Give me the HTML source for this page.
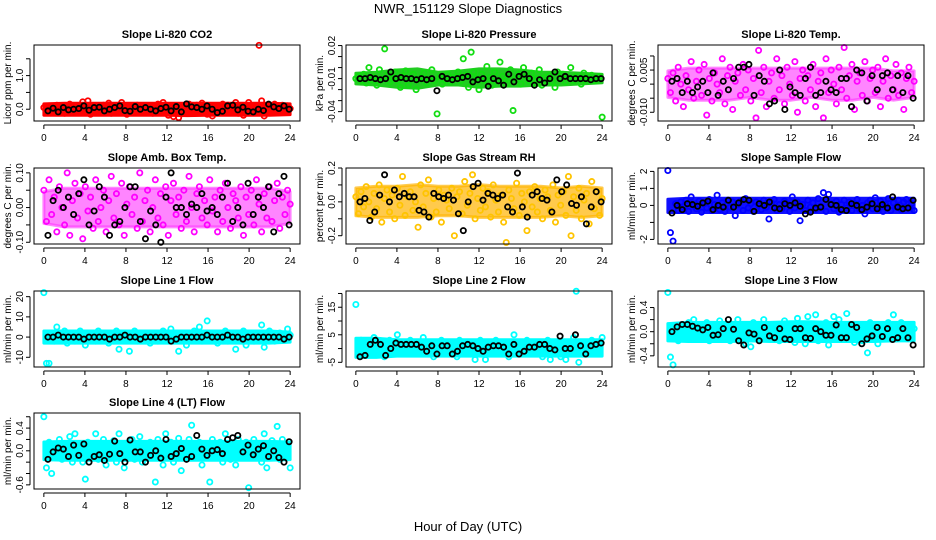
<!DOCTYPE html>
<html><head><meta charset="utf-8"><style>
html,body{margin:0;padding:0;background:#fff;}
svg{display:block;font-family:"Liberation Sans",sans-serif;}
</style></head><body>
<svg id="chart" width="936" height="540" viewBox="0 0 936 540" xmlns="http://www.w3.org/2000/svg">
<text x="468" y="13" text-anchor="middle" font-size="13">NWR_151129  Slope Diagnostics</text>
<text x="468" y="531" text-anchor="middle" font-size="13">Hour of Day (UTC)</text>
</svg>
<script>
const xTicks=[0,4,8,12,16,20,24];
const titles=["Slope Li-820 CO2","Slope Li-820 Pressure","Slope Li-820 Temp.","Slope Amb. Box Temp.","Slope Gas Stream RH","Slope Sample Flow","Slope Line 1 Flow","Slope Line 2 Flow","Slope Line 3 Flow","Slope Line 4 (LT) Flow"];
const yTitles=["Licor ppm per min.","kPa per min.","degrees C per min.","degrees C per min.","percent per min.","ml/min per min.","ml/min per min.","ml/min per min.","ml/min per min.","ml/min per min."];
const yDomains=[[-0.35,1.91],[-0.0485,0.0205],[-0.0131,0.0139],[-0.105,0.114],[-0.249,0.2],[-2.27,2.2],[-14.8,22.8],[-6.7,20.9],[-0.585,0.674],[-0.673,0.666]];
const yTickVals=[[0,0.5,1,1.5],[0.02,0.01,0,-0.01,-0.02,-0.03,-0.04],[0.01,0.005,0,-0.005,-0.01],[0.1,0.05,0,-0.05,-0.1],[0.2,0.1,0,-0.1,-0.2],[2,1,0,-1,-2],[20,10,0,-10],[20,15,10,5,0,-5],[0.4,0.2,0,-0.2,-0.4],[0.6,0.4,0.2,0,-0.2,-0.4,-0.6]];
const yTickLabels=[["0.0","","1.0",""],["0.02","","","-0.01","","","-0.04"],["","0.005","","","-0.010"],["0.10","","0.00","","-0.10"],["0.2","","0.0","","-0.2"],["2","1","0","","-2"],["20","10","0","-10"],["","15","","5","","-5"],["0.4","","0.0","","-0.4"],["","0.4","","0.0","","","-0.6"]];
const cloudColors=["#ff0000","#11dd11","#ff00ff","#ff00ff","#ffc400","#0000ff","#00ffff","#00ffff","#00ffff","#00ffff"];
const bandColors=["#ff0000","#22cc22","#ff33ff","#ff33ff","#ffb400","#1010ff","#00ffff","#00ffff","#00ffff","#00ffff"];
const bandOpacity=[1,1,0.6,0.6,0.7,1,1,1,1,1];

// dense-cloud envelope (lower / upper) every 2 hours, 0..24
const bandLo0=[-0.12,-0.12,-0.12,-0.12,-0.12,-0.12,-0.12,-0.13,-0.12,-0.12,-0.12,-0.12,-0.1];
const bandHi0=[0.1,0.12,0.12,0.12,0.12,0.12,0.12,0.12,0.12,0.12,0.12,0.12,0.1];
const bandLo1=[-0.013,-0.014,-0.016,-0.017,-0.014,-0.014,-0.016,-0.015,-0.015,-0.014,-0.014,-0.013,-0.012];
const bandHi1=[-0.007,-0.006,-0.004,-0.003,-0.006,-0.005,-0.003,-0.003,-0.004,-0.006,-0.006,-0.007,-0.008];
const bandLo2=[-0.004,-0.005,-0.005,-0.005,-0.004,-0.005,-0.005,-0.004,-0.005,-0.005,-0.004,-0.005,-0.004];
const bandHi2=[0.004,0.005,0.005,0.005,0.005,0.005,0.005,0.005,0.005,0.005,0.005,0.004,0.004];
const bandLo3=[-0.04,-0.05,-0.05,-0.05,-0.05,-0.05,-0.05,-0.05,-0.05,-0.05,-0.05,-0.05,-0.04];
const bandHi3=[0.04,0.05,0.05,0.05,0.05,0.05,0.05,0.05,0.05,0.05,0.05,0.05,0.04];
const bandLo4=[-0.07,-0.08,-0.08,-0.08,-0.07,-0.07,-0.08,-0.08,-0.08,-0.08,-0.07,-0.08,-0.07];
const bandHi4=[0.07,0.08,0.08,0.09,0.08,0.08,0.09,0.08,0.08,0.08,0.07,0.08,0.07];
const bandLo5=[-0.3,-0.3,-0.3,-0.3,-0.3,-0.3,-0.3,-0.3,-0.3,-0.3,-0.3,-0.3,-0.3];
const bandHi5=[0.25,0.3,0.3,0.3,0.3,0.3,0.3,0.3,0.3,0.3,0.3,0.3,0.3];
const bandLo6=[-2,-2,-2,-2,-2,-2,-2,-2,-2,-2,-2,-2,-1.5];
const bandHi6=[2,2,2,2,2,2,2,2,2,2,2,2,1.5];
const bandLo7=[-2.5,-2.5,-2,-2,-2,-2,-2,-2,-2,-2,-2,-2,-2];
const bandHi7=[3,3,2.5,2.5,2.5,2.5,2.5,2.5,2.5,2.5,2.5,2.5,2.5];
const bandLo8=[-0.12,-0.13,-0.13,-0.13,-0.12,-0.13,-0.13,-0.13,-0.13,-0.13,-0.13,-0.12,-0.12];
const bandHi8=[0.1,0.12,0.12,0.12,0.12,0.12,0.13,0.13,0.12,0.12,0.12,0.12,0.12];
const bandLo9=[-0.12,-0.13,-0.13,-0.13,-0.13,-0.13,-0.13,-0.13,-0.13,-0.13,-0.13,-0.13,-0.12];
const bandHi9=[0.12,0.13,0.13,0.13,0.13,0.13,0.13,0.13,0.13,0.13,0.13,0.13,0.12];

const cloud0=[0.05,-0.08,0.1,-0.1,0.02,0.12,-0.05,0.08,-0.12,0.0,0.15,-0.06,0.1,-0.1,0.05,0.22,-0.08,0.25,-0.15,0.06,0.1,-0.1,0.0,0.12,-0.06,0.18,-0.12,0.05,0.08,-0.1,0.2,0.0,-0.15,0.1,0.05,-0.08,0.12,-0.1,0.02,0.08,-0.05,0.1,-0.12,0.06,0.15,-0.05,0.2,-0.1,-0.18,0.08,-0.22,0.05,-0.25,0.1,0.0,-0.1,0.15,-0.05,0.08,0.12,-0.1,0.18,0.0,-0.15,0.05,-0.2,0.1,0.06,-0.08,0.15,-0.1,0.12,0.05,-0.05,0.2,-0.12,0.1,-0.18,0.08,0.2,-0.05,0.1,-0.1,1.9,0.25,-0.2,0.0,0.1,-0.08,0.15,0.05,-0.1,0.12,-0.06,0.1,0.02];
const black0=[-0.05,0.03,-0.08,0.05,-0.02,0.0,0.02,0.1,-0.03,0.05,0.06,-0.05,0.0,0.05,0.1,-0.04,-0.06,0.08,0.0,0.05,0.0,-0.05,0.02,0.06,-0.05,0.08,-0.08,0.16,0.07,0.05,0.0,0.1,0.0,-0.1,-0.06,0.1,0.12,-0.02,0.06,-0.06,-0.08,0.0,-0.04,0.15,0.07,0.02,0.1,0.0];
const cloud1=[-0.01,-0.008,-0.012,-0.006,-0.014,0.0,-0.011,-0.009,-0.016,-0.002,-0.01,0.017,-0.007,-0.013,-0.01,-0.004,-0.012,-0.018,-0.008,-0.003,-0.016,-0.01,-0.006,-0.02,-0.011,-0.009,-0.005,-0.014,-0.01,-0.002,-0.012,-0.042,-0.008,-0.015,-0.011,-0.006,-0.013,-0.009,-0.01,-0.004,-0.012,0.008,-0.007,-0.018,0.014,-0.004,-0.01,-0.02,-0.006,-0.012,0.001,-0.009,-0.016,-0.004,-0.012,0.005,-0.008,-0.011,-0.014,-0.002,-0.039,-0.01,-0.006,-0.015,0.0,-0.008,-0.012,-0.005,-0.014,-0.01,-0.002,-0.016,-0.009,-0.011,-0.007,-0.013,-0.018,-0.004,-0.01,-0.006,-0.013,-0.009,0.0,-0.012,-0.008,-0.01,-0.015,-0.005,-0.011,-0.009,-0.007,-0.012,-0.01,-0.008,-0.045];
const black1=[-0.01,-0.01,-0.009,-0.01,-0.011,-0.01,-0.004,-0.01,-0.009,-0.01,-0.01,-0.011,-0.01,-0.011,-0.01,-0.021,-0.008,-0.01,-0.011,-0.01,-0.009,-0.008,-0.013,-0.011,-0.01,-0.017,-0.01,-0.012,-0.016,-0.006,-0.013,-0.008,-0.006,-0.01,-0.016,-0.011,-0.014,-0.01,-0.004,-0.01,-0.008,-0.01,-0.01,-0.01,-0.01,-0.011,-0.01,-0.01];
const cloud2=[0.002,-0.003,0.004,-0.006,0.006,0.0,-0.008,0.003,-0.002,0.008,-0.005,0.001,0.005,-0.004,0.007,-0.011,0.002,-0.006,0.004,0.0,-0.003,0.009,-0.007,0.003,0.006,-0.009,0.001,0.004,-0.004,0.007,-0.002,0.005,-0.006,0.002,-0.012,0.012,-0.003,0.006,-0.008,0.001,0.004,-0.005,0.009,-0.002,0.003,-0.007,0.006,0.0,-0.004,0.008,-0.01,0.002,0.005,-0.006,0.003,-0.002,0.007,-0.008,0.001,0.004,-0.012,0.009,-0.003,0.005,0.0,-0.007,0.006,-0.002,0.013,-0.005,0.003,0.007,-0.009,0.001,0.004,-0.004,0.008,-0.006,0.002,0.005,-0.003,0.006,-0.008,0.001,0.009,-0.005,0.003,-0.002,0.007,-0.004,0.004,-0.009,0.002,0.006,-0.003,0.001];
const black2=[0.001,0.002,-0.003,0.001,-0.003,-0.001,0.001,-0.003,0.004,-0.004,0.001,-0.002,0.002,0.006,0.006,0.007,-0.004,0.003,0.001,-0.007,-0.006,0.005,-0.009,-0.001,-0.003,-0.004,0.002,0.006,-0.004,-0.003,0.001,-0.002,-0.003,0.002,0.002,-0.008,0.005,0.004,-0.006,0.003,-0.002,0.003,0.004,-0.002,0.003,-0.003,0.003,-0.005];
const cloud3=[0.05,-0.04,0.08,-0.02,0.03,-0.07,0.06,0.0,-0.05,0.1,-0.08,0.02,0.07,-0.03,0.04,-0.09,0.06,-0.01,0.03,-0.06,0.08,-0.04,0.0,0.05,-0.07,0.02,0.09,-0.03,0.04,-0.05,0.07,-0.08,0.01,0.06,-0.02,0.03,-0.06,0.1,-0.04,0.02,0.05,-0.07,0.0,0.08,-0.03,0.04,-0.05,0.06,-0.08,0.02,0.07,-0.02,0.03,-0.06,0.05,-0.04,0.09,0.0,-0.07,0.04,0.06,-0.03,0.02,-0.05,0.08,-0.01,0.03,-0.07,0.05,-0.04,0.07,0.0,-0.06,0.04,0.02,-0.03,0.06,-0.08,0.03,-0.02,0.05,-0.05,0.08,0.01,-0.07,0.04,-0.03,0.06,-0.04,0.02,0.07,-0.06,0.03,-0.02,0.05,0.01];
const black3=[-0.08,0.02,0.05,0.0,0.03,-0.02,0.04,0.08,-0.05,-0.01,0.06,0.03,-0.08,-0.05,-0.04,0.0,0.06,0.06,-0.04,-0.09,-0.01,-0.05,-0.1,0.03,0.1,0.0,0.0,-0.02,0.01,0.0,0.04,-0.01,0.0,-0.02,0.03,0.07,-0.04,0.0,-0.05,0.07,-0.02,0.03,0.0,0.06,-0.07,0.04,0.09,-0.05];
const cloud4=[0.03,-0.07,0.06,-0.03,0.09,0.0,-0.09,0.05,-0.04,0.1,-0.12,0.02,0.07,-0.06,0.04,-0.1,0.08,-0.02,0.15,-0.08,0.03,0.06,-0.05,0.0,-0.15,0.1,-0.03,0.05,0.13,-0.09,0.02,-0.06,0.07,-0.12,0.04,0.01,-0.04,0.08,-0.2,0.03,0.06,-0.07,0.12,-0.02,0.05,0.16,-0.1,0.02,-0.05,0.08,-0.03,0.06,-0.09,0.1,0.01,-0.06,0.04,-0.12,-0.24,0.07,0.02,-0.04,0.11,-0.08,0.05,0.0,-0.17,0.06,-0.03,0.09,-0.06,0.02,-0.1,0.07,0.03,-0.05,0.1,-0.12,0.04,-0.02,0.06,-0.08,0.15,-0.2,0.03,-0.05,0.08,-0.1,0.01,0.05,-0.13,0.12,-0.04,0.06,-0.08,0.02];
const black4=[0.0,0.02,-0.11,-0.06,0.04,0.16,0.0,0.07,0.03,0.05,0.03,0.03,-0.05,-0.06,-0.09,0.05,0.03,0.02,0.04,0.01,-0.07,-0.17,0.0,0.09,0.11,0.01,0.05,0.04,0.02,0.04,-0.03,-0.06,0.17,-0.03,-0.09,0.04,0.06,0.02,0.01,-0.06,0.13,0.06,0.1,-0.01,-0.02,0.03,-0.13,-0.03,0.06,0.0];
const cloud5=[2.05,-1.6,-2.1,0.1,-0.3,0.2,-0.1,0.3,-0.35,0.5,0.0,-0.2,0.25,-0.4,0.1,-0.15,0.35,-0.3,0.05,0.6,-0.25,0.15,-0.35,0.3,-0.1,0.2,-0.6,0.05,0.25,-0.3,0.4,-0.15,0.1,-0.35,0.2,0.0,-0.25,0.3,-0.1,-0.8,0.15,0.35,-0.3,0.05,-0.2,0.25,0.1,-0.35,0.5,-0.15,0.2,-0.9,0.05,-0.3,0.3,-0.1,0.15,-0.25,0.4,-0.05,0.75,-0.35,0.65,0.1,-0.2,0.25,-0.4,0.05,0.3,-0.15,0.2,-0.3,0.1,0.35,-0.25,0.0,-0.5,0.15,0.3,-0.2,0.45,-0.1,0.25,-0.35,0.05,0.4,-0.3,0.15,-0.1,0.3,-0.25,0.2,0.35,-0.15,0.1,-0.3];
const black5=[-0.45,0.0,-0.25,0.1,0.05,-0.05,0.15,0.25,-0.25,0.0,-0.1,0.3,-0.1,0.15,0.35,0.3,-0.35,0.1,0.0,0.2,-0.15,-0.2,0.1,0.0,0.15,-0.05,-0.5,-0.4,-0.15,-0.1,0.35,0.05,0.0,-0.25,-0.3,0.1,0.0,-0.25,-0.1,0.1,-0.2,0.05,-0.15,0.5,-0.1,-0.2,-0.15,0.3];
const cloud6=[22,-13,-13,2,-2,5,1,-1,3,-3,0,2,-2,1,3,-1,-4,2,0,1,-2,3,-1,0,2,-3,1,-2,3,-6,0,2,-1,-7,1,3,-2,0,2,-1,1,-3,2,0,-2,1,3,0,-1,4,-2,1,-7,0,2,-4,1,-1,3,0,5,-2,1,8,0,-1,2,-3,1,0,3,-2,1,0,-6,2,-1,3,-4,0,1,-2,2,-1,6,-5,1,3,0,-2,1,2,-1,0,4,1];
const black6=[0,0,1,0,0,0,0,-1,0,0,0,0,-1,0,0,1,0,0,-1,0,0,0,0,0,-2,-1,0,0,0,0,0,1,0,0,0,1,0,0,-1,0,0,0,0,0,0,0,-1,0];
const cloud7=[16,-2,3,-1,2,0,-2,4,1,-1,2,-3,0,3,-2,1,5,-1,2,-2,0,3,-1,1,-2,2,4,0,-1,2,-3,1,0,3,-2,1,-1,2,0,-3,3,-1,1,-2,2,0,-4,1,3,-1,-4,2,0,-2,3,1,-1,2,0,-3,1,5,-1,2,-2,0,3,-1,1,-2,2,0,-3,1,3,-4,-1,2,0,-3,1,-4,2,0,4,20.8,-5,2,-1,1,-2,3,0,-1,2,4];
const black7=[-3,-2.5,1.5,3,1.5,-2.5,0,2,1.5,1.5,1.5,1.5,0.5,-1,1,-2,1,1,-2,-1,1,1.5,1,0,-1,0.5,1,1,0.5,-2,1.5,-2,-1,0.5,0.5,1.5,1.5,0,-0.5,4.5,0,0,5,1,-2,1,1.5,2];
const cloud8=[0.65,-0.42,-0.55,0.0,-0.15,0.1,0.05,-0.1,0.15,-0.05,0.2,0.0,-0.12,0.1,-0.08,0.15,-0.15,0.05,0.12,-0.05,0.18,-0.1,0.08,0.0,-0.15,0.12,-0.05,0.2,-0.1,0.05,-0.2,0.1,-0.25,0.15,-0.05,0.08,-0.12,0.2,0.0,-0.1,0.12,-0.06,0.1,-0.15,0.05,0.18,-0.08,0.0,0.12,-0.18,0.22,-0.1,0.08,-0.2,0.25,0.05,-0.12,0.28,-0.15,0.1,-0.05,0.15,-0.22,0.1,0.25,-0.08,0.2,0.0,-0.12,0.3,-0.05,0.1,-0.18,0.12,0.0,-0.15,0.08,-0.35,0.15,-0.05,0.1,-0.2,0.12,0.0,-0.1,0.15,-0.05,0.28,-0.12,0.08,0.15,-0.1,0.05,0.12,-0.06,0.05];
const black8=[0.0,0.08,0.12,0.12,0.09,0.06,0.03,0.07,-0.06,-0.05,0.05,0.2,0.04,-0.15,-0.22,-0.02,-0.04,-0.15,0.07,-0.07,-0.1,0.05,-0.12,-0.13,0.05,0.05,-0.1,-0.11,0.05,0.0,-0.06,-0.06,0.11,-0.1,-0.1,0.12,0.07,-0.2,-0.12,-0.07,0.07,-0.08,0.05,-0.13,-0.1,0.05,-0.1,-0.22];
const cloud9=[0.6,-0.3,0.15,-0.4,0.05,-0.1,0.2,-0.15,0.1,0.0,0.25,-0.2,0.3,-0.05,0.1,-0.2,-0.5,0.15,-0.1,0.05,0.3,-0.15,0.0,0.2,-0.25,0.1,-0.05,0.18,-0.2,0.3,0.0,-0.3,0.12,-0.1,0.2,-0.15,0.05,0.25,-0.2,0.1,-0.05,0.15,-0.1,-0.55,0.2,0.0,-0.25,0.3,-0.1,0.15,-0.2,0.05,0.22,-0.35,0.1,-0.05,0.2,0.45,-0.1,0.0,0.15,-0.25,0.1,-0.05,-0.55,0.2,-0.1,0.05,0.15,-0.2,0.3,0.0,-0.15,0.1,-0.25,0.2,-0.05,0.1,0.15,-0.65,0.0,0.2,-0.1,0.05,-0.2,0.3,-0.3,0.1,0.18,-0.05,0.43,-0.15,0.2,0.0,-0.1,-0.3];
const black9=[-0.15,-0.02,0.05,0.03,-0.1,0.1,-0.08,0.12,-0.2,-0.1,-0.07,-0.17,-0.06,0.17,-0.05,-0.2,0.19,-0.02,-0.02,-0.2,-0.08,0.0,-0.13,0.2,-0.1,-0.05,0.04,-0.15,-0.1,0.27,0.03,-0.08,0.0,0.02,-0.05,0.2,0.23,0.27,-0.02,0.1,-0.07,0.03,0.09,-0.1,0.0,-0.12,-0.2,0.16];

const clouds=[cloud0,cloud1,cloud2,cloud3,cloud4,cloud5,cloud6,cloud7,cloud8,cloud9];
const blacks=[black0,black1,black2,black3,black4,black5,black6,black7,black8,black9];
const bandLos=[bandLo0,bandLo1,bandLo2,bandLo3,bandLo4,bandLo5,bandLo6,bandLo7,bandLo8,bandLo9];
const bandHis=[bandHi0,bandHi1,bandHi2,bandHi3,bandHi4,bandHi5,bandHi6,bandHi7,bandHi8,bandHi9];

const NS="http://www.w3.org/2000/svg";
const svg=document.getElementById('chart');
const colLeft=[34,346,658], rowTop=[45,168,291,413], W=266, H=76;
function mk(tag,attrs,parent){const e=document.createElementNS(NS,tag);for(const k in attrs)e.setAttribute(k,attrs[k]);(parent||svg).appendChild(e);return e;}

for(let p=0;p<10;p++){
  const L=colLeft[p%3], T=rowTop[Math.floor(p/3)], R=L+W, B=T+H;
  const [y0,y1]=yDomains[p];
  const xs=v=>L+(v+0.96)/25.92*W;
  const ys=v=>B-(v-y0)/(y1-y0)*H;
  const g=mk('g',{});
  
  
  const t=mk('text',{x:(L+R)/2,y:T-7,'text-anchor':'middle','font-size':'11','font-weight':'bold'},g);
  
  
  t.textContent=titles[p];
  const yt=mk('text',{x:0,y:0,'text-anchor':'middle','font-size':'10',transform:`translate(${L-23},${(T+B)/2}) rotate(-90)`},g);
  
  
  yt.textContent=yTitles[p];
  const lo=bandLos[p], hi=bandHis[p];
  let d='';
  hi.forEach((v,i)=>{d+=(i?'L':'M')+xs(i*24/(hi.length-1)).toFixed(1)+','+(ys(v)-2).toFixed(1);});
  for(let i=lo.length-1;i>=0;i--){d+='L'+xs(i*24/(lo.length-1)).toFixed(1)+','+(ys(lo[i])+2).toFixed(1);}
  d+='Z';
  const band=mk('path',{d:d,fill:bandColors[p],'fill-opacity':bandOpacity[p],stroke:bandColors[p],'stroke-opacity':bandOpacity[p],'stroke-width':3,'stroke-linejoin':'round'},g);
  
  
  const pts=mk('g',{},g);
  
  
  const cv=clouds[p];
  for(let i=0;i<cv.length;i++){
    const v=Math.max(y0,Math.min(y1,cv[i]));
    const c=mk('circle',{cx:xs(i*24/(cv.length-1)),cy:ys(v),r:2.6,fill:'none',stroke:cloudColors[p],'stroke-width':1.8},pts);
    
    
  }
  const bp=mk('g',{},g);
  
  
  const bv=blacks[p];
  for(let i=0;i<bv.length;i++){
    const v=Math.max(y0,Math.min(y1,bv[i]));
    const c=mk('circle',{cx:xs(0.4+i*23.5/(bv.length-1)),cy:ys(v),r:2.6,fill:'none',stroke:'#000','stroke-width':1.8},bp);
    
    
  }
  const box=mk('rect',{x:L,y:T,width:W,height:H,fill:'none',stroke:'#000','stroke-width':1},g);
  
  
  const xa=mk('g',{},g);
  
  
  mk('line',{x1:xs(xTicks[0]),x2:xs(xTicks[xTicks.length-1]),y1:B+4,y2:B+4,stroke:'#000'},xa);
  xTicks.forEach(v=>{
    mk('line',{x1:xs(v),x2:xs(v),y1:B+4,y2:B+8,stroke:'#000'},xa);
    const tl=mk('text',{x:xs(v),y:B+20,'text-anchor':'middle','font-size':'10'},xa);
    
    
    tl.textContent=v;
  });
  const ya=mk('g',{},g);
  
  
  const tv=yTickVals[p];
  mk('line',{x1:L-4,x2:L-4,y1:ys(Math.max(...tv)),y2:ys(Math.min(...tv)),stroke:'#000'},ya);
  tv.forEach((v,i)=>{
    mk('line',{x1:L-8,x2:L-4,y1:ys(v),y2:ys(v),stroke:'#000'},ya);
    if(yTickLabels[p][i]){
      const tl=mk('text',{x:0,y:0,'text-anchor':'middle','font-size':'10',transform:`translate(${L-11},${ys(v)}) rotate(-90)`},ya);
      
      
      tl.textContent=yTickLabels[p][i];
    }
  });
}
</script>
</body></html>
